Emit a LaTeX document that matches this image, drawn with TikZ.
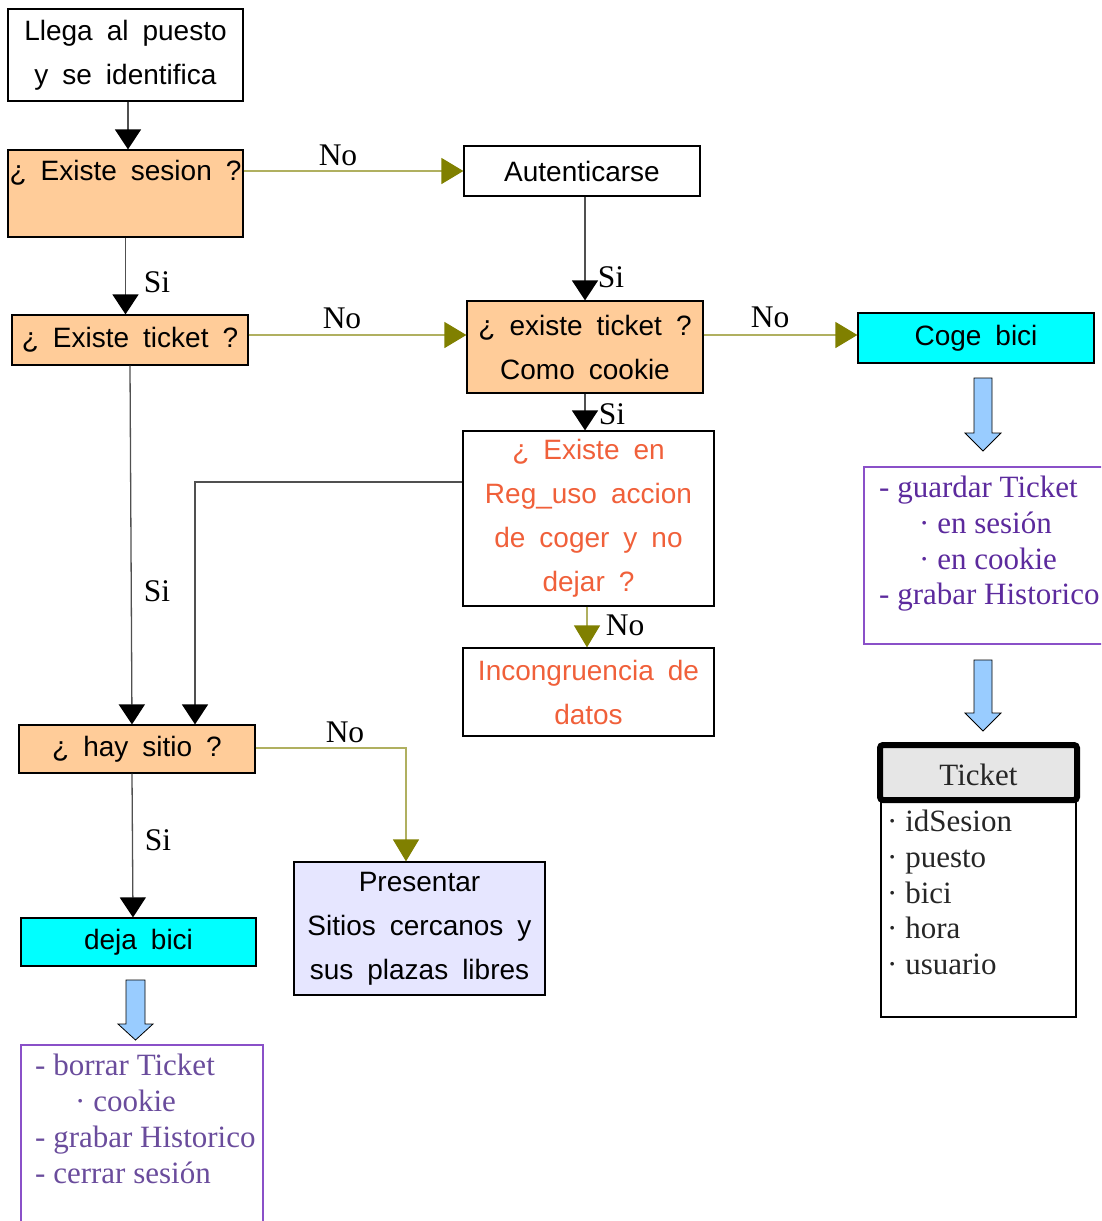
\documentclass[tikz,border=0pt]{standalone}
\usepackage{fontspec}
\setmainfont{Liberation Serif}
\setsansfont{Liberation Sans}
\usetikzlibrary{arrows.meta}
\definecolor{orangefill}{HTML}{FFCC99}
\definecolor{cyanfill}{HTML}{00FFFF}
\definecolor{lavender}{HTML}{E6E6FF}
\definecolor{olivehead}{HTML}{808000}
\definecolor{oliveline}{HTML}{B0B060}
\definecolor{redtext}{HTML}{F0603A}
\definecolor{purpleA}{HTML}{5C2A9D}
\definecolor{purpleB}{HTML}{6A4C9C}
\definecolor{purpleline}{HTML}{8A50C8}
\definecolor{arrowblue}{HTML}{99CCFF}
\definecolor{headgray}{HTML}{E6E6E6}
\definecolor{linegray}{HTML}{505050}
\begin{document}
\begin{tikzpicture}[x=1pt,y=-1pt,
  box/.style={draw=black, line width=1.2pt, inner sep=0pt, align=center,
    font=\sffamily\fontsize{28}{44}\selectfont,
    execute at begin node={\spaceskip=14pt\relax}},
  sanstxt/.style={inner sep=0pt, align=center,
    font=\sffamily\fontsize{28}{44}\selectfont,
    execute at begin node={\spaceskip=14pt\relax}},
  lbl/.style={inner sep=0pt, font=\fontsize{31.5}{36}\selectfont},
  item/.style={inner sep=0pt, anchor=base west, font=\fontsize{31}{36}\selectfont},
  yesflow/.style={draw=linegray, line width=1.3pt,
    -{Triangle[width=26pt,length=20pt,color=black,fill=black]}},
  noflow/.style={draw=oliveline, line width=1.3pt,
    -{Triangle[width=26pt,length=22pt,color=olivehead,fill=olivehead]}},
  fatarrow/.style={draw=black, line width=0.8pt, fill=arrowblue, line join=miter},
  notebox/.style={draw=purpleline, line width=1.2pt, inner sep=0pt}]

\useasboundingbox (0,0) rectangle (1101,1221);
\clip (0,0) rectangle (1101,1221);

% decision and process boxes
\node[box, minimum width=235, minimum height=92] (n1) at (125.5,55) {Llega al puesto\\y se identifica};
\node[box, fill=orangefill, minimum width=235, minimum height=87] (n2) at (125.5,193.5) {};
\node[sanstxt] (n2t) at (125.5,173) {¿ Existe sesion ?};
\node[box, minimum width=236, minimum height=50] (n3) at (582,171) {Autenticarse};
\node[box, fill=orangefill, minimum width=236, minimum height=50] (n4) at (130,340) {¿ Existe ticket ?};
\node[box, fill=orangefill, minimum width=236, minimum height=92] (n5) at (585,347) {¿ existe ticket ?\\Como cookie};
\node[box, fill=cyanfill, minimum width=236, minimum height=50] (n6) at (976,338) {Coge bici};
\node[box, text=redtext, minimum width=251, minimum height=175] (n7) at (588.5,518.5) {¿ Existe en\\Reg\_uso accion\\de coger y no\\dejar ?};
\node[box, text=redtext, minimum width=251, minimum height=88] (n8) at (588.5,692) {Incongruencia de\\datos};
\node[box, fill=orangefill, minimum width=236, minimum height=48] (n9) at (137,749) {¿ hay sitio ?};
\node[box, fill=lavender, minimum width=251, minimum height=133] (n10) at (419.5,928.5) {Presentar\\Sitios cercanos y\\sus plazas libres};
\node[box, fill=cyanfill, minimum width=235, minimum height=48] (n11) at (138.5,942) {deja bici};

% note boxes
\node[notebox, minimum width=242, minimum height=200] (n12) at (142,1145) {};
\node[notebox, minimum width=241, minimum height=177] (n13) at (984.5,555.5) {};

% Ticket record
\node[draw=black, line width=1.2pt, inner sep=0pt, minimum width=195, minimum height=217] (tb) at (978.5,908.5) {};
\node[draw=black, line width=6pt, rounded corners=3pt, fill=headgray, inner sep=0pt,
      minimum width=197, minimum height=55] (th) at (978.5,772.5) {};
\node[inner sep=0pt, anchor=base, text=black!85, font=\fontsize{31}{36}\selectfont] (tht) at (978.5,785) {Ticket};
\node[item, text=black!85] (t1) at (887,831) {· idSesion};
\node[item, text=black!85] (t2) at (887,867) {· puesto};
\node[item, text=black!85] (t3) at (887,903) {· bici};
\node[item, text=black!85] (t4) at (887,938) {· hora};
\node[item, text=black!85] (t5) at (887,974) {· usuario};

% note texts
\node[item, text=purpleA] (g1) at (879,497) {- guardar Ticket};
\node[item, text=purpleA] (g2) at (919,533) {· en sesión};
\node[item, text=purpleA] (g3) at (919,569) {· en cookie};
\node[item, text=purpleA] (g4) at (879,604) {- grabar Historico};
\node[item, text=purpleB] (b1) at (35,1075) {- borrar Ticket};
\node[item, text=purpleB] (b2) at (75,1111) {· cookie};
\node[item, text=purpleB] (b3) at (35,1147) {- grabar Historico};
\node[item, text=purpleB] (b4) at (35,1183) {- cerrar sesión};

% flow connectors
\draw[yesflow] ([xshift=2.5]n1.south) -- ([xshift=2.5]n2.north);
\draw[noflow] (n3.west -| n2.east) -- (n3.west);
\draw[yesflow] (n2.south) -- (n2.south |- n4.north);
\draw[yesflow] (n3.south -| n5.north) -- (n5.north);
\draw[noflow] ([yshift=5]n4.east) -- ([yshift=5]n4.east -| n5.west);
\draw[noflow] ([yshift=3]n6.west -| n5.east) -- ([yshift=3]n6.west);
\draw[yesflow] (n5.south) -- (n5.south |- n7.north);
\draw[noflow] ([xshift=-1.5]n7.south) -- ([xshift=-1.5]n8.north);
\draw[yesflow] (n4.south) -- ([xshift=-5]n9.north);
\coordinate (c1) at (195,482);
\draw[yesflow] ([yshift=36.5]n7.west) -- (c1) -- (c1 |- n9.north);
\draw[noflow] ([yshift=1]n9.east) -| ([xshift=-13.5]n10.north);
\draw[yesflow] ([xshift=-5]n9.south) -- ([xshift=-5.5]n11.north);

% branch labels
\node[lbl] (l1) at (338,155) {No};
\node[lbl] (l2) at (342,318) {No};
\node[lbl] (l3) at (770,317) {No};
\node[lbl] (l4) at (625,625) {No};
\node[lbl] (l5) at (345,732) {No};
\node[lbl] (l6) at (157,282) {Si};
\node[lbl] (l7) at (611,277) {Si};
\node[lbl] (l8) at (612,414) {Si};
\node[lbl] (l9) at (157,591) {Si};
\node[lbl] (l10) at (158,840) {Si};

% block arrows to the notes
\draw[fatarrow] (126,980) -- (145,980) -- (145,1024) -- (153,1024) -- (135.5,1040)
  -- (118,1024) -- (126,1024) -- cycle;
\draw[fatarrow] (974,378) -- (992,378) -- (992,433) -- (1001,433) -- (983,451)
  -- (965,433) -- (974,433) -- cycle;
\draw[fatarrow] (974,660) -- (992,660) -- (992,713) -- (1001,713) -- (983,731)
  -- (965,713) -- (974,713) -- cycle;
\end{tikzpicture}
\end{document}
